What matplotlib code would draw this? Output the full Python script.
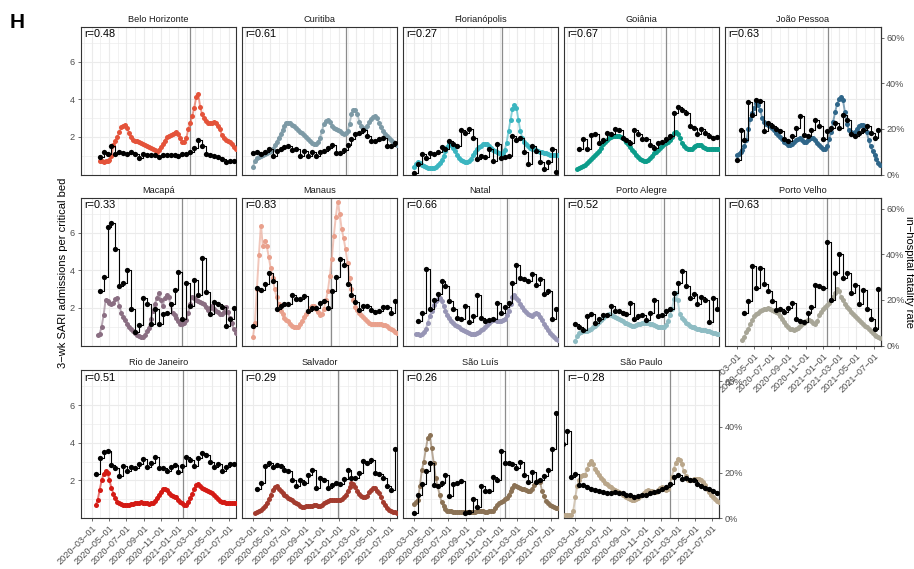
import numpy as np
import matplotlib.pyplot as plt

plt.rcParams['font.family'] = ['Liberation Sans', 'DejaVu Sans']

nan = np.nan

cities = ["Belo Horizonte", "Curitiba", "Florianópolis", "Goiânia", "João Pessoa",
          "Macapá", "Manaus", "Natal", "Porto Alegre", "Porto Velho",
          "Rio de Janeiro", "Salvador", "São Luís", "São Paulo"]
r_text = ["0.48", "0.61", "0.27", "0.67", "0.63", "0.33", "0.83", "0.66", "0.52", "0.63",
          "0.51", "0.29", "0.26", "−0.28"]
colours = ["#E4533A", "#7D9AA6", "#3BB5C0", "#0C9C8A", "#2F6689",
           "#8A6E82", "#E9A08C", "#9795B5", "#8EBCC3", "#A8A697",
           "#D41A14", "#A33B2E", "#8B7255", "#B9A68A"]
# vertical reference date per city
line_dates = ["2021-02-13", "2021-01-25", "2021-01-08", "2021-01-19", "2021-01-20",
              "2021-01-15", "2020-12-03", "2021-01-27", "2021-01-10", "2021-01-17",
              "2021-01-18", "2020-12-27", "2021-01-19", "2021-01-31"]

# weekly 3-wk SARI admissions per critical bed (default start 2020-03-01)
sari_start = {"São Paulo": "2020-01-26"}
sari = {
    "Belo Horizonte": [nan, nan, nan, nan, 0.73, 0.7, 0.68, 0.7, 0.72, 0.76, 1.0, 1.55, 1.8, 2.0,
                       2.25, 2.5, 2.6, 2.62, 2.45, 2.2, 1.98, 1.85, 1.8, 1.76,
                       1.72, 1.68, 1.63, 1.58, 1.52, 1.46, 1.4, 1.35, 1.28, 1.2,
                       1.3, 1.45, 1.63, 1.8, 1.98, 2.05, 2.1, 2.16, 2.2, 2.28,
                       2.15, 1.95, 1.72, 1.75, 1.95, 2.4, 2.75, 3.1, 3.55, 4.1,
                       4.3, 3.6, 3.2, 3.0, 2.85, 2.75, 2.72, 2.76, 2.8, 2.75,
                       2.6, 2.4, 2.1, 1.95, 1.85, 1.78, 1.72, 1.6, 1.48, 1.37],
    "Curitiba": [0.41, 0.7, 0.9, 0.95, 1.0, 1.05, 1.08, 1.12, 1.18, 1.25,
                 1.38, 1.55, 1.72, 1.95, 2.15, 2.38, 2.6, 2.72, 2.75, 2.72,
                 2.65, 2.56, 2.47, 2.37, 2.28, 2.18, 2.08, 1.97, 1.9, 1.8,
                 1.7, 1.63, 1.62, 1.72, 1.95, 2.3, 2.7, 2.85, 2.9, 2.78,
                 2.6, 2.45, 2.4, 2.37, 2.3, 2.2, 2.16, 2.2, 2.3, 2.7,
                 3.2, 3.43, 3.4, 3.2, 2.8, 2.55, 2.42, 2.45, 2.6, 2.78,
                 2.95, 3.08, 3.12, 3.02, 2.75, 2.5, 2.33, 2.15, 2.02, 1.95,
                 1.85, 1.72, 1.62, 1.55],
    "Florianópolis": [0.4, 0.55, 0.64, 0.6, 0.52, 0.45, 0.4, 0.33, 0.32, 0.34,
                      0.36, 0.42, 0.5, 0.62, 0.78, 1.0, 1.25, 1.48, 1.62, 1.55,
                      1.42, 1.25, 1.05, 0.9, 0.78, 0.7, 0.65, 0.64, 0.72, 0.85,
                      1.02, 1.2, 1.35, 1.46, 1.54, 1.6, 1.63, 1.62, 1.52, 1.42,
                      1.32, 1.24, 1.18, 1.13, 1.11, 1.15, 1.28, 1.7, 2.3, 2.9,
                      3.5, 3.68, 3.55, 2.9, 2.3, 1.95, 1.75, 1.6, 1.5, 1.43,
                      1.38, 1.33, 1.28, 1.25, 1.22, 1.2, 1.16, 1.12, 1.08, 1.06,
                      1.04, 1.03, 1.02, 1.02],
    "Goiânia": [nan, 0.3, 0.35, 0.4, 0.45, 0.52, 0.6, 0.7, 0.82, 0.93,
                1.03, 1.13, 1.25, 1.42, 1.6, 1.75, 1.85, 1.92, 1.98, 2.04,
                2.07, 2.07, 2.05, 2.0, 1.92, 1.82, 1.72, 1.6, 1.47, 1.32,
                1.18, 1.04, 0.92, 0.83, 0.75, 0.71, 0.72, 0.78, 0.88, 1.0,
                1.12, 1.22, 1.32, 1.43, 1.53, 1.6, 1.68, 1.75, 1.82, 2.0,
                2.2, 2.28, 2.15, 1.95, 1.7, 1.52, 1.4, 1.34, 1.33, 1.36,
                1.45, 1.52, 1.56, 1.58, 1.56, 1.48, 1.42, 1.38, 1.37, 1.38,
                1.37, 1.37, 1.37, 1.36],
    "João Pessoa": [1.02, 1.1, 1.2, 1.28, 1.5, 1.85, 2.4, 2.95, 3.25, 3.55,
                    3.8, 3.7, 3.4, 3.0, 2.8, 2.7, 2.63, 2.55, 2.45, 2.35,
                    2.2, 2.08, 1.98, 1.88, 1.75, 1.65, 1.58, 1.55, 1.62, 1.72,
                    1.82, 1.9, 1.93, 1.85, 1.75, 1.75, 1.85, 1.9, 1.92, 1.93,
                    1.85, 1.7, 1.55, 1.45, 1.38, 1.37, 1.5, 1.9, 2.25, 2.8,
                    3.3, 3.75, 4.0, 4.13, 3.95, 3.3, 2.7, 2.35, 2.25, 2.2,
                    2.25, 2.4, 2.55, 2.62, 2.63, 2.5, 2.25, 1.85, 1.5, 1.25,
                    1.02, 0.85, 0.62, 0.5],
    "Macapá": [nan, nan, nan, 0.55, 0.62, 1.0, 1.6, 2.4, 2.35, 2.25,
               2.2, 2.25, 2.45, 2.5, 2.1, 1.75, 1.5, 1.35, 1.15, 1.0,
               0.9, 0.78, 0.68, 0.58, 0.5, 0.45, 0.44, 0.55, 0.75, 0.95,
               1.4, 1.85, 2.2, 2.5, 2.8, 2.4, 2.1, 2.5, 2.7, 2.55,
               2.2, 1.75, 1.6, 1.48, 1.3, 1.15, 1.13, 1.2, 1.35, 1.75,
               2.2, 2.6, 2.5, 2.4, 2.35, 2.3, 2.26, 2.2, 2.05, 1.9,
               2.0, 2.09, 1.95, 1.85, 1.8, 1.7, 1.65, 1.8, 2.05, 1.8,
               1.48, 1.2, 0.87, 0.65],
    "Manaus": [0.45, 1.2, 3.0, 4.8, 6.35, 5.3, 5.57, 5.3, 4.7, 4.1,
               3.6, 3.0, 2.55, 2.2, 1.85, 1.65, 1.48, 1.38, 1.28, 1.15,
               1.05, 0.97, 0.96, 0.98, 1.15, 1.32, 1.5, 1.68, 1.83, 2.0,
               2.12, 2.1, 1.95, 1.78, 1.62, 1.7, 1.95, 2.4, 2.9, 3.7,
               4.6, 5.8, 6.8, 7.6, 7.0, 6.2, 5.7, 5.1, 4.4, 3.6,
               3.0, 2.4, 2.05, 1.9, 1.75, 1.62, 1.5, 1.4, 1.3, 1.2,
               1.15, 1.13, 1.13, 1.13, 1.13, 1.12, 1.1, 1.07, 1.02, 0.95,
               0.88, 0.82, 0.74, 0.68],
    "Natal": [nan, 0.61, 0.6, 0.58, 0.6, 0.7, 0.87, 1.2, 1.55, 1.85,
              2.15, 2.35, 2.48, 2.52, 2.35, 2.1, 1.85, 1.62, 1.45, 1.3,
              1.2, 1.1, 1.02, 0.96, 0.9, 0.82, 0.76, 0.72, 0.66, 0.63,
              0.61, 0.62, 0.66, 0.7, 0.8, 0.9, 1.0, 1.1, 1.2, 1.28,
              1.33, 1.34, 1.32, 1.31, 1.32, 1.36, 1.4, 1.6, 1.85, 2.2,
              2.55, 2.67, 2.5, 2.4, 2.2, 2.05, 1.9, 1.78, 1.68, 1.6,
              1.57, 1.65, 1.74, 1.65, 1.5, 1.35, 1.15, 0.98, 0.82, 0.65,
              0.55, 0.45, 0.36, 0.3],
    "Porto Alegre": [0.23, 0.5, 0.65, 0.72, 0.75, 0.77, 0.79, 0.83, 0.9, 0.96,
                     1.05, 1.15, 1.25, 1.35, 1.45, 1.55, 1.62, 1.65, 1.62, 1.57,
                     1.52, 1.46, 1.4, 1.34, 1.28, 1.22, 1.17, 1.13, 1.08, 1.05,
                     1.06, 1.1, 1.13, 1.16, 1.2, 1.22, 1.22, 1.2, 1.16, 1.13,
                     1.08, 1.02, 0.98, 0.96, 0.97, 1.0, 1.1, 1.3, 1.6, 1.95,
                     2.45, 2.79, 2.4, 1.7, 1.45, 1.33, 1.22, 1.12, 1.05, 1.0,
                     0.96, 0.93, 0.9, 0.87, 0.84, 0.82, 0.8, 0.78, 0.75, 0.72,
                     0.68, 0.65, 0.62, 0.6],
    "Porto Velho": [nan, nan, nan, 0.3, 0.45, 0.7, 0.9, 1.15, 1.35, 1.55,
                    1.65, 1.74, 1.82, 1.88, 1.93, 1.96, 1.97, 1.93, 1.86, 1.82,
                    1.78, 1.74, 1.55, 1.4, 1.25, 1.1, 0.98, 0.9, 0.86, 0.85,
                    0.87, 0.95, 1.05, 1.13, 1.22, 1.3, 1.34, 1.35, 1.3, 1.2,
                    1.13, 1.3, 1.6, 1.78, 1.95, 2.05, 2.15, 2.25, 2.4, 2.55,
                    2.8, 3.0, 2.9, 2.6, 2.4, 2.2, 2.05, 1.92, 1.8, 1.68,
                    1.58, 1.48, 1.35, 1.25, 1.15, 1.05, 0.96, 0.86, 0.76, 0.65,
                    0.55, 0.48, 0.44, 0.42],
    "Rio de Janeiro": [nan, nan, 0.69, 0.95, 1.5, 2.0, 2.35, 2.5, 2.4, 2.0,
                       1.6, 1.3, 1.05, 0.88, 0.78, 0.73, 0.7, 0.69, 0.69, 0.7,
                       0.73, 0.76, 0.78, 0.8, 0.82, 0.84, 0.82, 0.8, 0.78, 0.77,
                       0.78, 0.8, 0.92, 1.08, 1.25, 1.4, 1.53, 1.56, 1.5, 1.35,
                       1.24, 1.18, 1.13, 1.1, 0.98, 0.88, 0.78, 0.69, 0.72, 0.85,
                       1.05, 1.3, 1.55, 1.75, 1.83, 1.72, 1.6, 1.52, 1.48, 1.44,
                       1.4, 1.32, 1.22, 1.13, 1.02, 0.92, 0.86, 0.83, 0.82, 0.82,
                       0.82, 0.82, 0.82, 0.82],
    "Salvador": [nan, 0.28, 0.32, 0.37, 0.42, 0.52, 0.65, 0.82, 1.0, 1.25,
                 1.51, 1.65, 1.68, 1.55, 1.45, 1.35, 1.25, 1.15, 1.08, 1.0,
                 0.95, 0.88, 0.82, 0.74, 0.66, 0.6, 0.6, 0.62, 0.64, 0.65,
                 0.66, 0.67, 0.68, 0.66, 0.65, 0.7, 0.78, 0.85, 0.93, 0.98,
                 0.96, 0.94, 0.94, 0.96, 0.98, 0.99, 1.1, 1.25, 1.42, 1.65,
                 1.85, 1.8, 1.65, 1.45, 1.28, 1.18, 1.12, 1.1, 1.2, 1.38,
                 1.5, 1.58, 1.6, 1.45, 1.32, 1.1, 0.85, 0.7, 0.55, 0.45,
                 0.38, 0.32, 0.3, 0.28],
    "São Luís": [0.75, 0.85, 0.96, 1.7, 2.55, 3.0, 3.65, 4.25, 4.39, 3.7,
                 2.95, 2.15, 1.7, 1.25, 0.85, 0.62, 0.48, 0.4, 0.37, 0.36,
                 0.35, 0.34, 0.33, 0.32, 0.31, 0.31, 0.31, 0.31, 0.31, 0.31,
                 0.32, 0.34, 0.36, 0.38, 0.37, 0.36, 0.35, 0.35, 0.36, 0.37,
                 0.4, 0.55, 0.7, 0.8, 0.87, 0.93, 1.0, 1.08, 1.25, 1.42,
                 1.6, 1.74, 1.72, 1.65, 1.6, 1.56, 1.53, 1.48, 1.42, 1.45,
                 1.55, 1.75, 1.92, 1.98, 1.9, 1.45, 1.15, 0.92, 0.78, 0.68,
                 0.62, 0.58, 0.56, 0.55],
    "São Paulo": [0.14, 0.15, 0.16, 0.17, 0.4,
                  1.1, 1.7, 2.05, 2.23, 2.28, 2.3, 2.6, 2.9, 3.04, 2.85,
                  2.6, 2.45, 2.3, 2.15, 2.0, 1.88, 1.8, 1.72, 1.65, 1.57,
                  1.5, 1.43, 1.38, 1.32, 1.25, 1.18, 1.13, 1.07, 1.0, 0.96,
                  0.96, 0.99, 1.05, 1.15, 1.25, 1.35, 1.43, 1.48, 1.46, 1.42,
                  1.4, 1.39, 1.5, 1.62, 1.66, 1.55, 1.48, 1.55, 1.8, 2.2,
                  2.6, 2.95, 3.13, 3.1, 2.9, 2.5, 2.25, 2.05, 2.0, 2.03,
                  2.08, 2.09, 2.09, 2.09, 2.0, 1.9, 1.75, 1.55, 1.4, 1.25,
                  1.12, 1.0, 0.9, 0.85],
}

# biweekly in-hospital fatality rate in % (default start 2020-03-01)
fatal_start = {"São Paulo": "2020-01-19"}
fatal = {
    "Belo Horizonte": [nan, nan, 7.5, 9.7, 9.0, 12.5, 8.9, 9.7, 9.3, 8.9,
                       9.7, 9.2, 7.1, 8.9, 8.5, 8.7, 8.5, 7.5, 8.5, 8.5,
                       8.7, 8.7, 8.0, 9.2, 9.2, 10.0, 11.8, 15.1, 12.5, 8.9,
                       8.5, 8.2, 7.5, 7.0, 5.6, 5.8, 5.8],
    "Curitiba": [9.4, 9.9, 8.9, 9.7, 11.4, 8.2, 10.5, 11.4, 12.1, 12.5,
                 10.8, 11.4, 8.2, 10.5, 8.2, 9.7, 8.2, 9.7, 10.5, 11.8,
                 12.8, 9.4, 9.4, 10.8, 12.8, 15.4, 17.6, 18.3, 19.4, 16.8,
                 14.7, 14.7, 15.4, 16.1, 12.5, 12.5, 13.7],
    "Florianópolis": [0.7, 4.6, 8.9, 7.1, 9.4, 8.9, 9.9, 12.1, 11.0, 14.7,
                      13.5, 12.5, 19.4, 18.3, 20.0, 16.1, 6.8, 8.2, 7.5, 11.1,
                      6.0, 13.3, 7.1, 7.5, 8.2, 16.8, 15.1, 16.1, 10.0, 4.6,
                      12.5, 10.4, 5.6, 2.2, 5.4, 11.1, 1.0],
    "Goiânia": [nan, 11.1, 15.7, 11.0, 17.2, 17.6, 13.7, 15.0, 18.3, 17.6,
                20.0, 19.4, 16.1, 15.1, 14.0, 19.4, 17.6, 15.4, 15.7, 12.8,
                11.8, 13.7, 14.4, 15.4, 16.8, 27.0, 29.5, 28.4, 27.2, 21.2,
                20.5, 17.6, 20.0, 18.0, 16.8, 16.1, 16.5],
    "João Pessoa": [6.4, 19.7, 15.1, 32.0, 26.2, 32.7, 32.3, 19.0, 22.6, 21.2,
                    20.0, 19.0, 15.4, 14.5, 16.8, 20.5, 25.8, 17.2, 16.8, 19.7,
                    24.1, 21.5, 15.7, 19.0, 20.5, 22.6, 20.5, 26.2, 23.8, 17.6,
                    16.8, 18.3, 19.7, 21.5, 18.3, 16.1, 19.7],
    "Macapá": [nan, nan, 23.7, 30.2, 51.8, 53.9, 42.4, 25.9, 27.3, 33.1,
               16.2, 5.8, 9.1, 20.9, 18.0, 9.4, 16.2, 9.4, 13.7, 14.4,
               18.0, 24.4, 32.4, 11.5, 27.3, 17.3, 28.7, 22.3, 38.4, 23.3,
               14.0, 19.1, 18.0, 17.1, 8.7, 11.8, 16.5],
    "Manaus": [8.7, 25.2, 24.4, 26.9, 31.6, 28.1, 15.8, 17.3, 18.3, 18.3,
               22.0, 20.6, 20.6, 21.6, 15.1, 16.6, 16.6, 18.7, 19.4, 16.6,
               23.7, 30.2, 37.8, 35.2, 26.9, 22.3, 19.1, 15.4, 17.3, 17.3,
               15.4, 14.8, 15.0, 16.8, 16.8, 14.4, 19.7],
    "Natal": [nan, 10.8, 14.4, 33.5, 15.8, 20.1, 22.6, 28.3, 25.9, 19.4,
              15.8, 12.2, 11.5, 17.3, 10.5, 13.0, 22.3, 11.9, 10.8, 11.2,
              11.5, 18.7, 14.4, 16.8, 18.7, 27.3, 35.5, 29.5, 29.2, 28.1,
              31.2, 26.6, 29.2, 22.6, 23.7, 11.5, 15.8],
    "Porto Alegre": [9.4, 8.2, 6.8, 13.0, 14.0, 9.7, 11.5, 13.4, 13.4, 17.3,
                     15.1, 15.1, 14.4, 14.0, 18.7, 11.5, 13.0, 13.4, 11.1, 14.4,
                     20.1, 13.0, 13.4, 15.1, 16.2, 23.0, 27.3, 32.6, 25.9, 20.9,
                     22.6, 18.0, 21.2, 20.1, 10.1, 20.9, 15.8],
    "Porto Velho": [nan, nan, 14.4, 19.4, 35.0, 25.2, 34.1, 26.9, 24.0, 19.7,
                    15.4, 15.8, 14.8, 16.6, 18.7, 11.8, 10.8, 10.5, 14.4, 16.8,
                    26.6, 26.3, 25.2, 45.6, 20.1, 31.6, 40.3, 29.5, 31.6, 23.0,
                    26.6, 18.0, 24.4, 16.1, 11.5, 7.2, 24.7],
    "Rio de Janeiro": [nan, 19.4, 26.2, 29.0, 29.4, 23.3, 21.9, 18.4, 23.0, 20.8,
                       22.3, 22.0, 23.7, 25.9, 22.3, 24.1, 27.0, 21.9, 21.9, 20.8,
                       22.5, 23.3, 20.1, 23.0, 27.0, 25.6, 23.0, 26.2, 28.7, 27.6,
                       24.4, 22.5, 23.7, 20.8, 22.3, 23.7, 23.7],
    "Salvador": [nan, 12.8, 15.4, 23.0, 24.0, 22.5, 23.3, 23.0, 21.1, 20.8,
                 16.8, 13.9, 16.8, 15.4, 19.0, 21.1, 13.2, 17.5, 16.8, 13.0,
                 14.7, 15.4, 15.0, 17.2, 21.1, 17.5, 17.8, 19.7, 25.0, 24.0,
                 25.4, 19.7, 19.4, 17.5, 13.9, 12.5, 30.5],
    "São Luís": [2.2, 10.3, 15.1, 20.8, 24.0, 14.7, 14.0, 15.5, 19.0, 9.8,
                 15.1, 15.5, 16.1, 2.2, 2.5, 8.3, 5.0, 14.1, 11.8, 11.8,
                 18.0, 16.5, 29.4, 24.1, 24.1, 23.7, 21.9, 24.7, 19.0, 15.8,
                 20.1, 15.8, 16.5, 18.4, 21.3, 30.5, 46.0],
    "São Paulo": [32.3, 38.4, 18.0,
                  19.4, 14.7, 14.5, 13.7, 12.9, 12.5, 11.8, 11.5, 11.2, 11.2,
                  11.5, 10.8, 11.2, 10.3, 10.0, 9.4, 9.8, 10.3, 10.3, 11.2,
                  11.5, 11.8, 12.9, 13.7, 15.1, 18.0, 19.0, 17.3, 17.5, 16.5,
                  16.5, 15.1, 14.1, 13.4, 12.6, 12.0, 11.2],
}

x_ticks = ["2020-03-01", "2020-05-01", "2020-07-01", "2020-09-01", "2020-11-01",
           "2021-01-01", "2021-03-01", "2021-05-01", "2021-07-01"]
x_minor = ["2020-02-01", "2020-04-01", "2020-06-01", "2020-08-01", "2020-10-01",
           "2020-12-01", "2021-02-01", "2021-04-01", "2021-06-01"]
x_range = ["2020-01-21", "2021-07-26"]
pct_ticks = [0, 20, 40, 60]

K = 8.26  # percent per unit of the left axis

W, H = 914, 569
fig = plt.figure(figsize=(W / 100, H / 100), dpi=100)
col_left = [80.5, 241.7, 402.7, 564.0, 725.3]
row_top = [26.7, 197.7, 370.3]
pw, ph = 155.4, 148.0

week = np.timedelta64(7, 'D')
tick_kw = dict(length=2.5, width=0.5, color='#333333', labelsize=6.6,
               labelcolor='#4D4D4D', pad=1.5)

for k, city in enumerate(cities):
    row, col = divmod(k, 5)
    ax = fig.add_axes([col_left[col] / W, 1 - (row_top[row] + ph) / H, pw / W, ph / H])
    c = colours[k]

    # SARI admissions
    sv = np.array(sari[city], dtype=float)
    sd = np.datetime64(sari_start.get(city, "2020-03-01")) + np.arange(len(sv)) * week
    ax.plot(sd, sv, color=c, lw=1.4, alpha=0.6, zorder=3)
    ax.plot(sd, sv, 'o', color=c, ms=3.6, mec='none', zorder=3)

    # fatality rate (step)
    fv = np.array(fatal[city], dtype=float) / K
    fd = np.datetime64(fatal_start.get(city, "2020-03-01")) + np.arange(len(fv)) * 2 * week
    ax.step(fd, fv, where='post', color='black', lw=0.8, zorder=4)
    ax.plot(fd, fv, 'o', color='black', ms=3.8, mec='none', zorder=5)

    ax.axvline(np.datetime64(line_dates[k]), color='#8C8C8C', lw=0.9, zorder=2)

    ax.set_xlim(np.datetime64(x_range[0]), np.datetime64(x_range[1]))
    ax.set_ylim(-0.01, 7.85)
    ax.set_xticks([np.datetime64(t) for t in x_ticks])
    ax.set_xticks([np.datetime64(t) for t in x_minor], minor=True)
    ax.set_yticks([2, 4, 6])
    ax.set_yticks([1, 3, 5, 7], minor=True)
    ax.set_yticklabels(['2', '4', '6'])
    ax.set_xticklabels([t.replace('-', '−') for t in x_ticks],
                       rotation=45, ha='right', rotation_mode='anchor')

    ax.grid(True, which='major', color='#EBEBEB', lw=0.8)
    ax.grid(True, which='minor', color='#EBEBEB', lw=0.45)
    ax.set_axisbelow(True)

    ax.tick_params(which='major', **tick_kw)
    ax.tick_params(which='minor', length=0)
    show_left = col == 0
    show_bottom = row == 2 or (row == 1 and col == 4)
    if not show_left:
        ax.tick_params(axis='y', which='both', left=False, labelleft=False)
    if not show_bottom:
        ax.tick_params(axis='x', which='both', bottom=False, labelbottom=False)
    else:
        ax.set_zorder(2)

    for s in ax.spines.values():
        s.set_color('#333333')
        s.set_linewidth(0.8)

    if col == 4 or k == len(cities) - 1:
        sec = ax.secondary_yaxis('right', functions=(lambda y: y * K, lambda p: p / K))
        sec.set_yticks(pct_ticks)
        sec.set_yticklabels([f"{p}%" for p in pct_ticks])
        sec.tick_params(**tick_kw)
        sec.spines['right'].set_color('#333333')
        sec.spines['right'].set_linewidth(0.8)

    ax.set_title(city, fontsize=6.6, color='#1A1A1A', pad=3.5)
    ax.text(0.022, 0.985, 'r=' + r_text[k], transform=ax.transAxes,
            ha='left', va='top', fontsize=7.8, color='black', zorder=6)

fig.text(63 / W, 1 - 272.5 / H, "3−wk SARI admissions per critical bed",
         rotation=90, ha='center', va='center', fontsize=8)
fig.text(909 / W, 1 - 272.5 / H, "in−hospital fatality rate",
         rotation=270, ha='center', va='center', fontsize=8)
fig.text(10 / W, 1 - 22 / H, "H", fontsize=15, fontweight='bold', ha='left', va='center')

fig.savefig('out.png', dpi=100)
